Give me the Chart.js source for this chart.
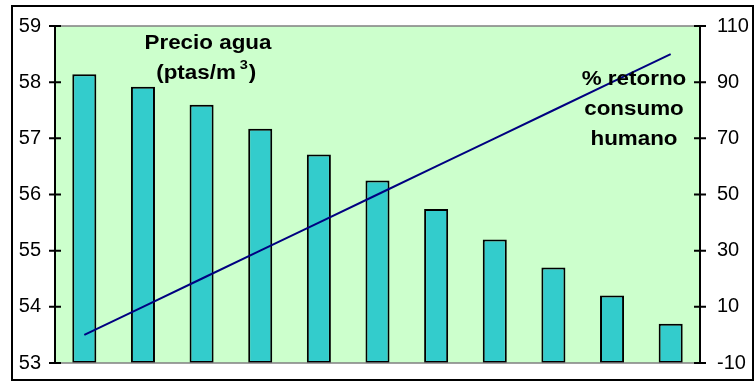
<!DOCTYPE html>
<html lang="es">
<head>
  <meta charset="UTF-8" />
  <title>Precio agua vs % retorno</title>
  <style>
    html, body { margin: 0; padding: 0; background: #fff; }
    #wrap { position: relative; width: 755px; height: 382px; }
  </style>
</head>
<body>
  <div id="wrap"><canvas id="chart" width="755" height="382"></canvas></div>

<script src="https://cdn.jsdelivr.net/npm/chart.js"></script>
<script>
// categories (no labels shown on the x axis)
const categories = ["1", "2", "3", "4", "5", "6", "7", "8", "9", "10", "11"];
// water price, ptas/m3 (left axis)
const precioAgua = [58.14, 57.92, 57.6, 57.17, 56.71, 56.25, 55.74, 55.2, 54.7, 54.2, 53.7];
// % return for human consumption (right axis)
const retorno = [0, 10, 20, 30, 40, 50, 60, 70, 80, 90, 100];
const leftTicks = [53, 54, 55, 56, 57, 58, 59];
const rightTicks = [-10, 10, 30, 50, 70, 90, 110];

const FONT = "Liberation Sans, Arial, sans-serif";

// stretched text, the reference font is a bit wider than Arial
function wideText(ctx, txt, x, y, sx) {
  ctx.save();
  ctx.translate(x, y);
  ctx.scale(sx, 1);
  ctx.fillText(txt, 0, 0);
  ctx.restore();
}

// background, axes, frame and the free text labels
const decor = {
  id: "decor",
  beforeDraw(chart) {
    const { ctx, chartArea: a } = chart;
    ctx.save();
    ctx.fillStyle = "#ccffcc";
    ctx.fillRect(a.left, a.top, a.right - a.left, a.bottom - a.top);
    ctx.restore();
  },
  afterDraw(chart) {
    const { ctx, chartArea: a, scales } = chart;
    ctx.save();
    // gray top/bottom border of plot area
    ctx.strokeStyle = "#808080";
    ctx.lineWidth = 1.5;
    ctx.beginPath();
    ctx.moveTo(a.left, a.top); ctx.lineTo(a.right, a.top);
    ctx.moveTo(a.left, a.bottom); ctx.lineTo(a.right, a.bottom);
    ctx.stroke();
    // axis lines + crossing ticks
    ctx.strokeStyle = "#000";
    ctx.lineWidth = 2;
    ctx.beginPath();
    ctx.moveTo(a.left, a.top); ctx.lineTo(a.left, a.bottom);
    ctx.moveTo(a.right, a.top); ctx.lineTo(a.right, a.bottom);
    leftTicks.forEach(v => {
      const y = scales.y.getPixelForValue(v);
      ctx.moveTo(a.left - 6, y); ctx.lineTo(a.left + 6, y);
    });
    rightTicks.forEach(v => {
      const y = scales.y2.getPixelForValue(v);
      ctx.moveTo(a.right - 6, y); ctx.lineTo(a.right + 6, y);
    });
    ctx.stroke();
    // outer frame
    ctx.lineWidth = 2;
    ctx.strokeRect(12, 6, 741, 374);

    // labels
    ctx.fillStyle = "#000";
    ctx.font = "bold 20px " + FONT;
    ctx.textAlign = "center";
    ctx.textBaseline = "middle";
    const sx = 1.12;
    wideText(ctx, "Precio agua", 208, 43, sx);
    const w1 = ctx.measureText("(ptas/m").width * sx;
    ctx.textAlign = "left";
    const x0 = 204 - w1 / 2 - 8;
    wideText(ctx, "(ptas/m", x0, 73, sx);
    ctx.font = "bold 13px " + FONT;
    wideText(ctx, "3", x0 + w1 + 4, 65, sx);
    ctx.font = "bold 20px " + FONT;
    wideText(ctx, ")", x0 + w1 + 13, 73, sx);

    ctx.textAlign = "center";
    wideText(ctx, "% retorno", 634, 79, sx);
    wideText(ctx, "consumo", 634, 109, sx);
    wideText(ctx, "humano", 634, 139, sx);
    ctx.restore();
  }
};

new Chart(document.getElementById("chart"), {
  data: {
    labels: categories,
    datasets: [
      {
        type: "line",
        label: "% retorno consumo humano",
        data: retorno,
        yAxisID: "y2",
        borderColor: "#000080",
        borderWidth: 2,
        pointRadius: 0,
        fill: false,
        order: 0
      },
      {
        type: "bar",
        label: "Precio agua",
        data: precioAgua,
        yAxisID: "y",
        backgroundColor: "#33cccc",
        borderColor: "#000",
        borderWidth: 2,
        borderSkipped: false,
        categoryPercentage: 1,
        barPercentage: 0.41,
        base: 53,
        order: 1
      }
    ]
  },
  options: {
    responsive: false,
    animation: false,
    layout: { padding: { top: 26, bottom: 4, left: 0, right: 0 } },
    plugins: { legend: { display: false }, tooltip: { enabled: false } },
    scales: {
      x: { display: false, offset: true, grid: { display: false } },
      y: {
        position: "left",
        min: 53, max: 59,
        afterFit: s => { s.width = 55; },
        afterBuildTicks: s => { s.ticks = leftTicks.map(v => ({ value: v })); },
        grid: { display: false },
        border: { display: false },
        ticks: { padding: 6, color: "#000", font: { family: FONT, size: 20, lineHeight: 1 } }
      },
      y2: {
        position: "right",
        min: -10, max: 110,
        afterFit: s => { s.width = 55; },
        afterBuildTicks: s => { s.ticks = rightTicks.map(v => ({ value: v })); },
        grid: { display: false },
        border: { display: false },
        ticks: { padding: 9, color: "#000", font: { family: FONT, size: 20, lineHeight: 1 } }
      }
    }
  },
  plugins: [decor]
});
</script>
</body>
</html>
